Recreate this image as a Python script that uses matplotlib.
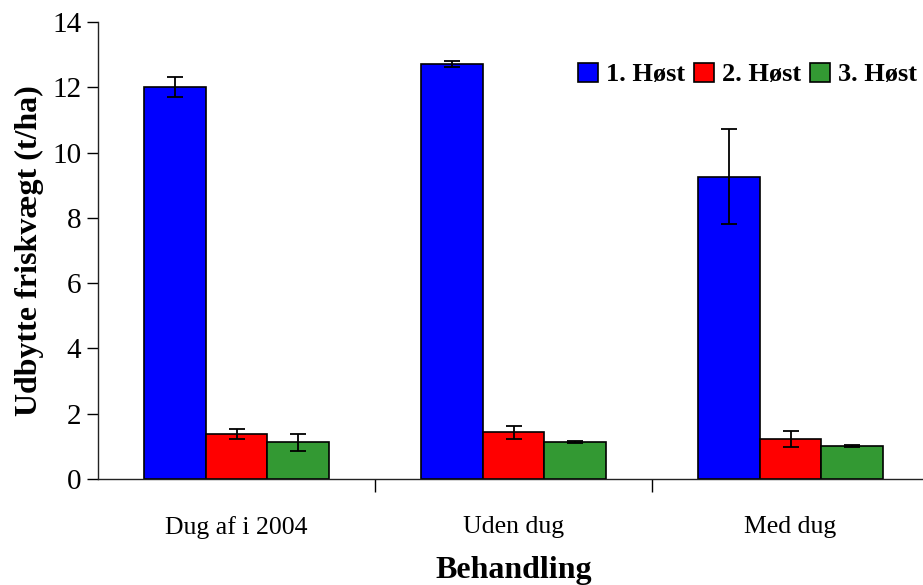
import matplotlib
matplotlib.use("Agg")
import matplotlib.pyplot as plt
import numpy as np

categories = ["Dug af i 2004", "Uden dug", "Med dug"]
series_names = ["1. Høst", "2. Høst", "3. Høst"]
harvest1 = [12.0, 12.72, 9.26]
harvest2 = [1.39, 1.43, 1.22]
harvest3 = [1.12, 1.12, 1.0]
err1 = [0.31, 0.10, 1.45]
err2 = [0.15, 0.19, 0.24]
err3 = [0.25, 0.03, 0.03]
colors = ["#0000FF", "#FF0000", "#339933"]
y_ticks = [0, 2, 4, 6, 8, 10, 12, 14]

plt.rcParams["font.family"] = ["Liberation Serif", "DejaVu Serif"]

fig = plt.figure(figsize=(9.23, 5.85), dpi=100)
W, H = 923, 585
left_px, right_px, top_px, bottom_px = 98, 929, 22, 479
ax = fig.add_axes([left_px / W, 1 - bottom_px / H,
                   (right_px - left_px) / W, (bottom_px - top_px) / H])

x = np.arange(len(categories))
bw = 0.222
values = [harvest1, harvest2, harvest3]
errs = [err1, err2, err3]
for i, (vals, e, c, name) in enumerate(zip(values, errs, colors, series_names)):
    pos = x + (i - 1) * bw
    ax.bar(pos, vals, width=bw, color=c, edgecolor="black", linewidth=1.2,
           label=name, zorder=2)
    ax.errorbar(pos, vals, yerr=e, fmt="none", ecolor="black", elinewidth=1.3,
                capsize=6, capthick=1.3, zorder=3)

ax.set_xlim(-0.5, 2.5)
ax.set_ylim(0, 14)
ax.set_yticks(y_ticks)
ax.set_yticklabels([str(t) for t in y_ticks], fontsize=21)

ax.set_xticks([0.5, 1.5, 2.5])
ax.set_xticklabels([])
ax.set_xticks(x, minor=True)
ax.set_xticklabels(categories, minor=True, fontsize=18.5)
ax.tick_params(axis="x", which="minor", length=0, pad=27)
ax.tick_params(axis="x", which="major", length=9, width=1, direction="out")
ax.tick_params(axis="y", length=8, width=1, direction="out", pad=4)

for s in ["top", "right"]:
    ax.spines[s].set_visible(False)
for s in ["left", "bottom"]:
    ax.spines[s].set_color("#222222")
    ax.spines[s].set_linewidth(1)

ax.set_ylabel("Udbytte friskvægt (t/ha)", fontsize=23, fontweight="bold", labelpad=6)
ax.set_xlabel("Behandling", fontsize=23, fontweight="bold", labelpad=12)

leg = ax.legend(loc="upper right", bbox_to_anchor=((933 - left_px) / (right_px - left_px), 0.946),
                ncol=3, frameon=False, prop={"weight": "bold", "size": 19},
                handlelength=0.75, handleheight=0.75, handletextpad=0.3,
                columnspacing=0.35, borderaxespad=0.2)

fig.savefig("out.png", dpi=100)
